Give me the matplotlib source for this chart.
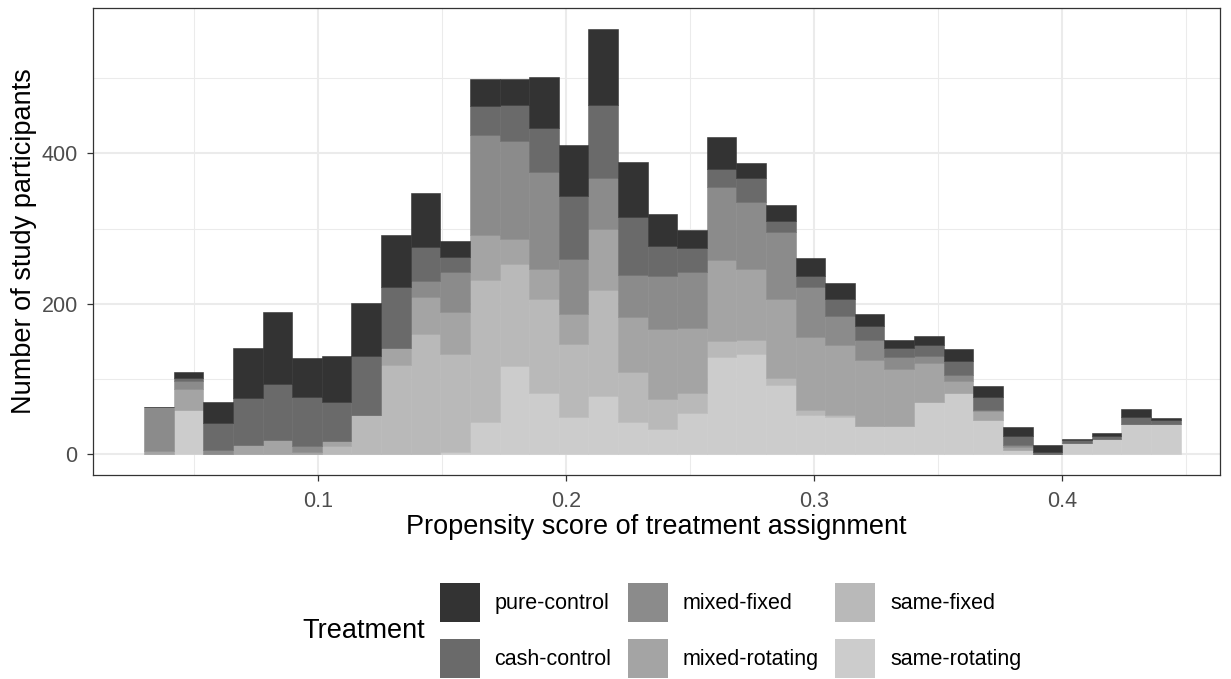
import numpy as np
import matplotlib
matplotlib.use("Agg")
import matplotlib.pyplot as plt
from matplotlib.patches import Patch

plt.rcParams['font.family'] = ['Liberation Sans', 'DejaVu Sans']

# histogram bins (propensity score)
bin_start = 0.0298
bin_width = 0.01194
n_bins = 35

# counts per bin, one list per treatment
pure_control = [0, 7, 28, 67, 96, 52, 61, 70, 68, 72, 21, 36, 34, 67, 67, 101, 73, 42,
                24, 43, 20, 22, 24, 22, 16, 10, 12, 16, 15, 12, 10, 2, 4, 11, 2]
cash_control = [0, 4, 36, 63, 74, 65, 52, 79, 82, 44, 19, 39, 49, 58, 84, 97, 77, 40,
                31, 24, 31, 14, 14, 22, 19, 12, 14, 19, 17, 12, 2, 4, 4, 9, 6]
mixed_fixed = [58, 11, 6, 0, 0, 8, 0, 0, 0, 22, 54, 133, 130, 130, 73, 68, 55, 70,
               75, 97, 90, 90, 67, 39, 27, 16, 9, 7, 2, 2, 0, 0, 0, 0, 0]
mixed_rotating = [5, 28, 0, 11, 19, 3, 7, 0, 22, 49, 55, 59, 33, 40, 40, 80, 74, 94,
                  86, 108, 94, 105, 97, 93, 88, 76, 52, 16, 12, 4, 0, 0, 0, 0, 0]
same_fixed = [0, 0, 0, 1, 0, 0, 11, 52, 119, 160, 131, 189, 136, 125, 97, 141, 66, 40,
              27, 20, 18, 9, 7, 2, 0, 0, 0, 0, 0, 0, 0, 0, 0, 0, 0]
same_rotating = [0, 59, 0, 0, 0, 0, 0, 0, 0, 0, 3, 43, 117, 81, 50, 78, 43, 33,
                 55, 130, 134, 92, 52, 50, 37, 38, 70, 82, 45, 6, 1, 15, 20, 40, 40]

treatments = ['pure-control', 'cash-control', 'mixed-fixed',
              'mixed-rotating', 'same-fixed', 'same-rotating']
counts = [pure_control, cash_control, mixed_fixed,
          mixed_rotating, same_fixed, same_rotating]
greys = ['#333333', '#6A6A6A', '#8B8B8B', '#A4A4A4', '#B9B9B9', '#CCCCCC']

x_ticks = [0.1, 0.2, 0.3, 0.4]
y_ticks = [0, 200, 400]

W, H = 1231, 679
fig = plt.figure(figsize=(W / 100, H / 100), dpi=100)
ax = fig.add_axes([92.7 / W, 1 - 475 / H, (1220 - 92.7) / W, (475 - 8.3) / H])

edges = bin_start + bin_width * np.arange(n_bins)

# stack from the bottom: last treatment first, like ggplot
bottom = np.zeros(n_bins)
handles = {}
for name, vals, col in reversed(list(zip(treatments, counts, greys))):
    vals = np.array(vals, dtype=float)
    ax.bar(edges, vals, width=bin_width, bottom=bottom, align='edge',
           color=col, edgecolor=col, linewidth=0.4, zorder=2)
    bottom += vals
    handles[name] = Patch(facecolor=col, edgecolor='none')

ax.set_xlim(0.00903, 0.4636)
ax.set_ylim(-27.5, 593)
ax.set_xticks(x_ticks)
ax.set_xticklabels([str(t) for t in x_ticks])
ax.set_yticks(y_ticks)
ax.set_xticks([0.05, 0.15, 0.25, 0.35, 0.45], minor=True)
ax.set_yticks([100, 300, 500], minor=True)

# theme_bw look
ax.grid(True, which='major', color='#EBEBEB', linewidth=1.45, zorder=0)
ax.grid(True, which='minor', color='#EBEBEB', linewidth=0.75, zorder=0)
ax.set_axisbelow(True)
for sp in ax.spines.values():
    sp.set_color('#333333')
    sp.set_linewidth(0.9)
ax.tick_params(which='major', length=4.3, width=0.9, color='#333333',
               labelcolor='#4D4D4D', labelsize=15.5)
ax.tick_params(axis='y', pad=6.5)
ax.tick_params(axis='x', pad=7)
ax.tick_params(which='minor', length=0)

fig.text(656 / W, 1 - 527 / H, 'Propensity score of treatment assignment',
         ha='center', va='center', fontsize=19.5)
fig.text(24 / W, 1 - 241.6 / H, 'Number of study participants',
         ha='center', va='center', rotation=90, fontsize=19.5)

# legend at the bottom
fig.text(302 / W, 1 - 631 / H, 'Treatment', ha='left', va='center', fontsize=19.5)
fig.legend([handles[t] for t in treatments], treatments, ncol=3,
           loc='upper left', bbox_to_anchor=(439.5 / W, 1 - 583 / H),
           bbox_transform=fig.transFigure, frameon=False, borderpad=0,
           borderaxespad=0, handlelength=1.86, handleheight=2.4,
           handletextpad=0.7, columnspacing=0.75, labelspacing=0.8,
           fontsize=15.5)

fig.savefig('out.png', dpi=100)
